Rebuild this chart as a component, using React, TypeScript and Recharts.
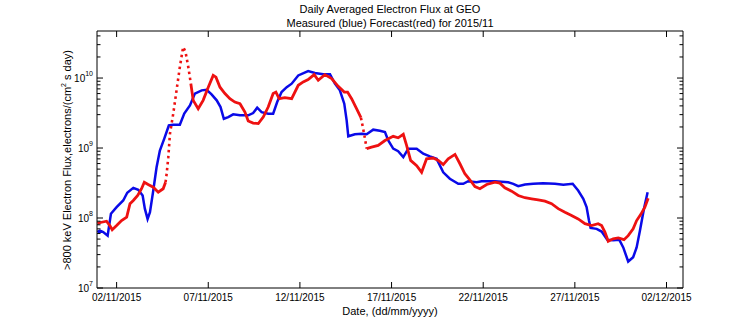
import { LineChart, Line, XAxis, YAxis } from "recharts";

// days are day-of-November 2015 (32 = 02/12/2015)
const blueDays = [0.95, 1.09, 1.27, 1.51, 1.69, 2.0, 2.36, 2.58, 2.91, 3.18, 3.42, 3.54, 3.69, 3.82, 4.0, 4.18, 4.36, 4.6, 4.85, 5.09, 5.45, 5.69, 6.0, 6.27, 6.64, 6.91, 7.18, 7.46, 7.67, 7.85, 8.09, 8.36, 8.73, 9.18, 9.45, 9.67, 9.91, 10.27, 10.54, 10.76, 11.0, 11.28, 11.55, 11.91, 12.45, 12.82, 13.27, 13.64, 13.91, 14.18, 14.42, 14.55, 14.64, 15.0, 15.37, 15.64, 16.0, 16.36, 16.64, 16.82, 17.09, 17.36, 17.64, 17.91, 18.37, 18.73, 19.09, 19.46, 19.82, 20.18, 20.64, 20.91, 21.18, 21.64, 21.91, 22.64, 23.36, 23.64, 23.91, 24.28, 24.73, 25.27, 25.91, 26.37, 26.88, 27.18, 27.46, 27.64, 27.77, 27.86, 28.19, 28.46, 28.77, 29.09, 29.42, 29.64, 29.91, 30.18, 30.37, 30.55, 30.77, 30.97];
const blueFlux = [6.3e7, 6.6e7, 6.3e7, 5.6e7, 1.15e8, 1.43e8, 1.78e8, 2.3e8, 2.7e8, 2.53e8, 2.1e8, 1.36e8, 9.7e7, 1.21e8, 2.47e8, 5.3e8, 9.2e8, 1.36e9, 2.1e9, 2.15e9, 2.15e9, 3.1e9, 4.07e9, 6.0e9, 6.67e9, 6.8e9, 5.85e9, 4.8e9, 3.85e9, 2.62e9, 2.77e9, 3.03e9, 2.93e9, 2.93e9, 3.16e9, 3.77e9, 3.26e9, 3.1e9, 3.1e9, 4.54e9, 6.3e9, 7.4e9, 8.3e9, 1.09e10, 1.26e10, 1.18e10, 1.13e10, 1.13e10, 8.3e9, 6.67e9, 4.3e9, 2.48e9, 1.47e9, 1.57e9, 1.6e9, 1.57e9, 1.83e9, 1.76e9, 1.69e9, 1.28e9, 9.8e8, 9.0e8, 7.4e8, 9.8e8, 9.8e8, 8.3e8, 7.6e8, 7.0e8, 4.5e8, 3.64e8, 3.08e8, 3.08e8, 3.36e8, 3.25e8, 3.36e8, 3.36e8, 3.25e8, 3.08e8, 2.85e8, 3.01e8, 3.08e8, 3.15e8, 3.08e8, 2.99e8, 3.08e8, 2.47e8, 1.88e8, 1.43e8, 9.2e7, 7.2e7, 7.0e7, 6.4e7, 4.9e7, 4.8e7, 4.9e7, 3.8e7, 2.39e7, 2.75e7, 3.8e7, 6.6e7, 1.36e8, 2.34e8];

const redDays = [0.95, 1.18, 1.45, 1.63, 1.76, 2.0, 2.27, 2.55, 2.73, 2.91, 3.15, 3.36, 3.51, 3.72, 4.0, 4.27, 4.54, 4.67, 4.73, 4.82, 4.91, 5.09, 5.27, 5.45, 5.63, 5.76, 5.91, 6.05, 6.18, 6.45, 6.72, 7.0, 7.27, 7.42, 7.64, 7.91, 8.18, 8.45, 8.73, 9.0, 9.18, 9.45, 9.73, 10.0, 10.27, 10.54, 10.69, 10.87, 11.18, 11.55, 11.91, 12.18, 12.45, 12.78, 13.0, 13.36, 13.73, 14.09, 14.42, 14.6, 14.82, 15.09, 15.33, 15.45, 15.55, 15.64, 15.91, 16.27, 16.64, 17.09, 17.36, 17.64, 17.82, 18.04, 18.37, 18.64, 18.91, 19.27, 19.55, 19.82, 20.09, 20.46, 20.73, 21.0, 21.27, 21.55, 21.82, 22.19, 22.64, 22.91, 23.18, 23.55, 23.91, 24.28, 24.64, 25.0, 25.37, 25.73, 26.09, 26.46, 26.82, 27.18, 27.55, 27.91, 28.27, 28.46, 28.64, 28.82, 29.09, 29.37, 29.68, 29.91, 30.18, 30.37, 30.59, 30.82, 31.0];
const redFlux = [8.4e7, 8.7e7, 9.0e7, 7.8e7, 6.8e7, 7.8e7, 9.2e7, 1.03e8, 1.6e8, 1.78e8, 2.1e8, 2.62e8, 3.25e8, 3.01e8, 2.76e8, 2.34e8, 2.62e8, 3.25e8, 4.29e8, 7.4e8, 1.6e9, 3.1e9, 6.67e9, 1.44e10, 2.78e10, 2.36e10, 1.44e10, 8.3e9, 4.8e9, 3.65e9, 4.8e9, 7.4e9, 1.09e10, 1.03e10, 7.4e9, 6.0e9, 5.07e9, 4.54e9, 4.3e9, 3.26e9, 2.43e9, 2.27e9, 2.23e9, 2.77e9, 3.85e9, 6.0e9, 6.3e9, 5.07e9, 5.25e9, 5.07e9, 7.87e9, 8.8e9, 9.5e9, 1.12e10, 9.3e9, 1.12e10, 9.8e9, 7.6e9, 6.3e9, 6.3e9, 5.07e9, 3.65e9, 2.71e9, 1.89e9, 1.36e9, 9.8e8, 1.03e9, 1.09e9, 1.28e9, 1.47e9, 1.4e9, 1.57e9, 1.09e9, 6.65e8, 5.6e8, 4.5e8, 7.0e8, 7.2e8, 6.65e8, 5.8e8, 7.0e8, 8.1e8, 5.96e8, 4.29e8, 3.52e8, 2.82e8, 2.62e8, 3.01e8, 3.25e8, 3.15e8, 2.7e8, 2.42e8, 2.1e8, 1.95e8, 1.88e8, 1.82e8, 1.74e8, 1.6e8, 1.36e8, 1.21e8, 1.09e8, 9.7e7, 8.3e7, 7.8e7, 8.3e7, 7.8e7, 6.3e7, 4.66e7, 5.04e7, 5.2e7, 4.9e7, 5.6e7, 7.0e7, 9.2e7, 1.12e8, 1.43e8, 1.92e8];

// stretches where the hourly forecast markers are spread apart (drawn dotted)
const redDottedSpans = [
  [4.67, 6.05],
  [15.33, 15.64],
];

const xTicks = [2, 7, 12, 17, 22, 27, 32];
const xTickLabels = ["02/11/2015", "07/11/2015", "12/11/2015", "17/11/2015", "22/11/2015", "27/11/2015", "02/12/2015"];
const yMajor = [1e7, 1e8, 1e9, 1e10];
const yExponents = ["7", "8", "9", "10"];

const X_DOMAIN: [number, number] = [0.93, 32.9];
const Y_DOMAIN: [number, number] = [1e7, 4.7e10];

// major decades plus the 2..9 minor ticks of a log axis
const yTicks: number[] = [];
yMajor.forEach((m) => {
  for (let k = 1; k <= 9; k++) {
    if (m * k <= Y_DOMAIN[1]) yTicks.push(m * k);
  }
});

const blueData = blueDays.map((day, i) => ({ day, flux: blueFlux[i] }));
const redData = redDays.map((day, i) => ({ day, flux: redFlux[i] }));

// split red into solid / dotted pieces (pieces share their end points)
type Piece = { dotted: boolean; data: { day: number; flux: number }[] };
const redPieces: Piece[] = [];
{
  let start = redDays[0];
  redDottedSpans.forEach(([a, b]) => {
    redPieces.push({ dotted: false, data: redData.filter((p) => p.day >= start && p.day <= a) });
    redPieces.push({ dotted: true, data: redData.filter((p) => p.day >= a && p.day <= b) });
    start = b;
  });
  redPieces.push({ dotted: false, data: redData.filter((p) => p.day >= start) });
}

const FONT = "'Liberation Sans', Arial, Helvetica, sans-serif";

function majorIndex(v: number) {
  return yMajor.findIndex((m) => Math.abs(v - m) / m < 1e-6);
}

function BottomTick(props: any) {
  const { x, y, payload } = props;
  const idx = xTicks.indexOf(payload.value);
  return (
    <g>
      <line x1={x} x2={x} y1={y} y2={y - 6} stroke="#000" />
      <text x={x} y={y + 13} textAnchor="middle" fontSize={10} fontFamily={FONT} fill="#000">
        {xTickLabels[idx]}
      </text>
    </g>
  );
}

function TopTick(props: any) {
  const { x, y } = props;
  return <line x1={x} x2={x} y1={y} y2={y + 6} stroke="#000" />;
}

function LeftTick(props: any) {
  const { x, y, payload } = props;
  const idx = majorIndex(payload.value);
  const major = idx >= 0;
  return (
    <g>
      <line x1={x} x2={x + (major ? 6 : 3.5)} y1={y} y2={y} stroke="#000" />
      {major && (
        <text x={x - 4} y={y + 4} textAnchor="end" fontSize={10} fontFamily={FONT} fill="#000">
          10
          <tspan dy={-6} fontSize={7}>
            {yExponents[idx]}
          </tspan>
        </text>
      )}
    </g>
  );
}

function RightTick(props: any) {
  const { x, y, payload } = props;
  const major = majorIndex(payload.value) >= 0;
  return <line x1={x} x2={x - (major ? 6 : 3.5)} y1={y} y2={y} stroke="#000" />;
}

export default function App() {
  return (
    <div style={{ position: "absolute", left: 0, top: 0, width: 756, height: 324, background: "#fff", fontFamily: FONT }}>
      <LineChart width={756} height={324} margin={{ top: 30, right: 72, bottom: 0, left: 0 }}>
        <XAxis
          xAxisId="b"
          type="number"
          dataKey="day"
          domain={X_DOMAIN}
          allowDataOverflow
          ticks={xTicks}
          interval={0}
          height={36}
          tickSize={0}
          tickMargin={0}
          tickLine={false}
          axisLine={{ stroke: "#000" }}
          tick={BottomTick}
        />
        <XAxis
          xAxisId="t"
          orientation="top"
          type="number"
          dataKey="day"
          domain={X_DOMAIN}
          allowDataOverflow
          ticks={xTicks}
          interval={0}
          height={1}
          tickSize={0}
          tickMargin={0}
          tickLine={false}
          axisLine={{ stroke: "#000" }}
          tick={TopTick}
        />
        <YAxis
          yAxisId="l"
          scale="log"
          type="number"
          domain={Y_DOMAIN}
          allowDataOverflow
          ticks={yTicks}
          interval={0}
          width={97}
          tickSize={0}
          tickMargin={0}
          tickLine={false}
          axisLine={{ stroke: "#000" }}
          tick={LeftTick}
        />
        <YAxis
          yAxisId="r"
          orientation="right"
          scale="log"
          type="number"
          domain={Y_DOMAIN}
          allowDataOverflow
          ticks={yTicks}
          interval={0}
          width={1}
          tickSize={0}
          tickMargin={0}
          tickLine={false}
          axisLine={{ stroke: "#000" }}
          tick={RightTick}
        />
        <Line
          xAxisId="b"
          yAxisId="l"
          data={blueData}
          dataKey="flux"
          type="linear"
          stroke="#0a0ae8"
          strokeWidth={2.5}
          dot={false}
          isAnimationActive={false}
        />
        {redPieces.map((piece, i) => (
          <Line
            key={`red-${i}`}
            xAxisId="b"
            yAxisId="l"
            data={piece.data}
            dataKey="flux"
            type="linear"
            stroke="#ee1111"
            strokeWidth={piece.dotted ? 2.6 : 2.8}
            strokeDasharray={piece.dotted ? "2.5 3.5" : undefined}
            dot={false}
            isAnimationActive={false}
          />
        ))}
        <text x={390} y={13} textAnchor="middle" fontSize={11} fontFamily={FONT} fill="#000">
          Daily Averaged Electron Flux at GEO
        </text>
        <text x={390} y={27} textAnchor="middle" fontSize={11} fontFamily={FONT} fill="#000">
          Measured (blue) Forecast(red) for 2015/11
        </text>
        <text x={390} y={315} textAnchor="middle" fontSize={11} fontFamily={FONT} fill="#000">
          Date, (dd/mm/yyyy)
        </text>
        <text
          transform="translate(71,160) rotate(-90)"
          textAnchor="middle"
          fontSize={11}
          fontFamily={FONT}
          fill="#000"
        >
          &gt;800 keV Electron Flux,electrons/(cm
          <tspan dy={-5} fontSize={7}>2</tspan>
          <tspan dy={5}> s day)</tspan>
        </text>
      </LineChart>
    </div>
  );
}
